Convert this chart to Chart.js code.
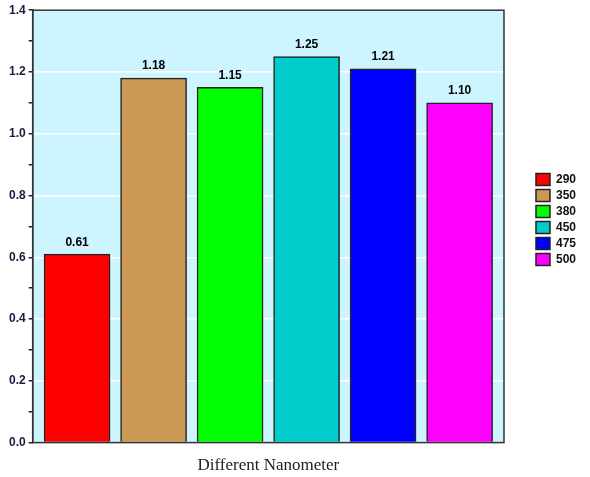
<!DOCTYPE html>
<html>
<head>
<meta charset="utf-8">
<script src="https://cdn.jsdelivr.net/npm/chart.js@4"></script>
<style>
  html, body { margin: 0; padding: 0; background: #fff; }
  #wrap { width: 590px; height: 477px; }
</style>
</head>
<body>
<div id="wrap"><canvas id="c"></canvas></div>
<script>
const categories = ['290', '350', '380', '450', '475', '500'];
const values = [0.61, 1.18, 1.15, 1.25, 1.21, 1.10];
const colors = ['#ff0000', '#cc9955', '#00ff00', '#00cccc', '#0000ff', '#ff00ff'];
const yTicks = [0, 0.2, 0.4, 0.6, 0.8, 1.0, 1.2, 1.4];

// plot background + frame
const plotBox = {
  id: 'plotBox',
  beforeDraw(chart) {
    const { ctx, chartArea: a } = chart;
    ctx.save();
    ctx.fillStyle = '#ccf5ff';
    ctx.fillRect(a.left, a.top, a.right - a.left, a.bottom - a.top);
    ctx.restore();
  },
  afterDatasetsDraw(chart) {
    const { ctx, chartArea: a } = chart;
    ctx.save();
    ctx.strokeStyle = '#333';
    ctx.lineWidth = 1.5;
    ctx.strokeRect(a.left, a.top, a.right - a.left, a.bottom - a.top);
    ctx.restore();
  }
};

// value labels above bars
const valueLabels = {
  id: 'valueLabels',
  afterDatasetsDraw(chart) {
    const { ctx } = chart;
    ctx.save();
    ctx.font = 'bold 12px Arial, "Liberation Sans", sans-serif';
    ctx.fillStyle = '#000';
    ctx.textAlign = 'center';
    ctx.textBaseline = 'bottom';
    chart.data.datasets.forEach((ds, i) => {
      const el = chart.getDatasetMeta(i).data[0];
      ctx.fillText(ds.data[0].y.toFixed(2), el.x, el.y - 6);
    });
    ctx.restore();
  }
};

new Chart(document.getElementById('c'), {
  type: 'bar',
  data: {
    datasets: categories.map((c, i) => ({
      label: c,
      data: [{ x: i, y: values[i] }],
      backgroundColor: colors[i],
      borderColor: '#222',
      borderWidth: 1.5,
      barThickness: 66
    }))
  },
  options: {
    responsive: true,
    maintainAspectRatio: false,
    animation: false,
    layout: { padding: { top: 4, right: 4, left: 6, bottom: 1 } },
    datasets: { bar: { grouped: false } },
    scales: {
      x: {
        type: 'linear',
        offset: false,
        min: -0.58,
        max: 5.58,
        grid: { display: false, drawTicks: false },
        border: { display: false },
        ticks: { display: false },
        title: {
          display: true,
          text: 'Different Nanometer',
          font: { family: '"Liberation Serif", "Times New Roman", serif', size: 17 },
          color: '#222',
          padding: { top: 13, bottom: 0 }
        }
      },
      y: {
        min: 0,
        max: 1.4,
        afterBuildTicks(scale) {
          const t = [];
          for (let k = 0; k <= 14; k++) t.push({ value: k / 10 });
          scale.ticks = t;
        },
        ticks: {
          font: { family: 'Arial, "Liberation Sans", sans-serif', size: 12, weight: 'bold' },
          color: '#1a1a40',
          padding: 3,
          callback: (v) => {
            const hit = yTicks.find(t => Math.abs(t - v) < 1e-6);
            return hit === undefined ? '' : hit.toFixed(1);
          }
        },
        grid: {
          color: (c) => (Math.round(c.tick.value * 10) % 2 === 0 && c.tick.value > 0 && c.tick.value < 1.4) ? '#ffffff' : 'rgba(0,0,0,0)',
          lineWidth: 1.5,
          tickColor: '#222',
          tickLength: 4,
          drawTicks: true
        },
        border: { display: true, color: '#222', width: 1.5 }
      },
      // empty spacer between plot and legend
      gap: {
        position: 'right',
        display: true,
        grid: { display: false, drawTicks: false },
        border: { display: false },
        ticks: { display: false },
        afterFit(s) { s.width = 28; }
      }
    },
    plugins: {
      legend: {
        position: 'right',
        align: 'start',
        title: { display: true, text: ' ', font: { size: 12 }, padding: { top: 151, bottom: 0 } },
        labels: {
          boxWidth: 14,
          boxHeight: 12,
          padding: 4,
          color: '#111',
          font: { family: 'Arial, "Liberation Sans", sans-serif', size: 12, weight: 'bold' }
        }
      },
      tooltip: { enabled: false }
    }
  },
  plugins: [plotBox, valueLabels]
});
</script>
</body>
</html>
